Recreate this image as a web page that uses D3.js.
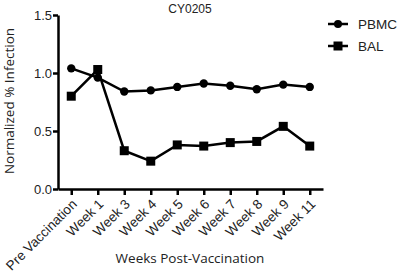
<!DOCTYPE html>
<html>
<head>
<meta charset="utf-8">
<script src="https://cdn.jsdelivr.net/npm/d3@7"></script>
<style>
  body { margin: 0; background: #fff; }
  text { font-family: "Liberation Sans", Arial, sans-serif; }
</style>
</head>
<body>
<div id="chart"></div>
<script>
// data
var weeks = ["Pre Vaccination", "Week 1", "Week 3", "Week 4", "Week 5", "Week 6", "Week 7", "Week 8", "Week 9", "Week 11"];
var pbmc = [1.04, 0.96, 0.84, 0.85, 0.88, 0.91, 0.89, 0.86, 0.90, 0.88];
var bal = [0.80, 1.03, 0.33, 0.24, 0.38, 0.37, 0.40, 0.41, 0.54, 0.37];
var yTicks = [0.0, 0.5, 1.0, 1.5];

var width = 400, height = 272;
var margin = {top: 15, right: 77, bottom: 83, left: 58};

var svg = d3.select("#chart").append("svg")
    .attr("width", width)
    .attr("height", height);

var x = d3.scalePoint()
    .domain(weeks)
    .range([margin.left, width - margin.right])
    .padding(0.5);

var y = d3.scaleLinear()
    .domain([0, 1.5])
    .range([height - margin.bottom, margin.top]);

// axes
var yAxis = svg.append("g")
    .attr("transform", "translate(" + margin.left + ",0)")
    .call(d3.axisLeft(y).tickValues(yTicks).tickFormat(d3.format(".1f")).tickSize(5).tickSizeOuter(0));
yAxis.select(".domain").attr("stroke-width", 2.5);
yAxis.selectAll(".tick line").attr("stroke-width", 2.5);
yAxis.selectAll("text").attr("font-size", 13).attr("fill", "#222").attr("dx", 2);

var xAxis = svg.append("g")
    .attr("transform", "translate(0," + (height - margin.bottom) + ")")
    .call(d3.axisBottom(x).tickSize(6).tickSizeOuter(0));
xAxis.select(".domain").attr("stroke-width", 2.5);
xAxis.selectAll(".tick line").attr("stroke-width", 2.5);
xAxis.selectAll("text")
    .attr("font-size", 13.5)
    .attr("fill", "#222")
    .attr("text-anchor", "end")
    .attr("dy", 0)
    .attr("transform", "translate(6,16) rotate(-45)")
    .attr("y", 0)
    .attr("x", 0);

// lines
var line = d3.line()
    .x(function(d, i) { return x(weeks[i]); })
    .y(function(d) { return y(d); });

svg.append("path").datum(pbmc)
    .attr("d", line).attr("fill", "none").attr("stroke", "#000").attr("stroke-width", 2.5);
svg.append("path").datum(bal)
    .attr("d", line).attr("fill", "none").attr("stroke", "#000").attr("stroke-width", 2.5);

svg.selectAll(".pt").data(pbmc).enter().append("circle")
    .attr("cx", function(d, i) { return x(weeks[i]); })
    .attr("cy", function(d) { return y(d); })
    .attr("r", 4.2)
    .attr("fill", "#000");

svg.selectAll(".sq").data(bal).enter().append("rect")
    .attr("x", function(d, i) { return x(weeks[i]) - 4.5; })
    .attr("y", function(d) { return y(d) - 4.5; })
    .attr("width", 9)
    .attr("height", 9)
    .attr("fill", "#000");

// title and labels
svg.append("text")
    .attr("x", 190).attr("y", 13)
    .attr("text-anchor", "middle")
    .attr("font-size", 12)
    .attr("fill", "#222")
    .text("CY0205");

svg.append("text")
    .attr("x", 190).attr("y", 263)
    .attr("text-anchor", "middle")
    .attr("font-size", 13.5)
    .attr("fill", "#222")
    .style("font-family", "'Open Sans', sans-serif")
    .text("Weeks Post-Vaccination");

svg.append("text")
    .attr("transform", "translate(14," + 101 + ") rotate(-90)")
    .attr("text-anchor", "middle")
    .attr("font-size", 13.5)
    .attr("fill", "#222")
    .style("font-family", "'Open Sans', sans-serif")
    .text("Normalized % Infection");

// legend
var legend = [{name: "PBMC", shape: "circle"}, {name: "BAL", shape: "square"}];
var lg = svg.selectAll(".lg").data(legend).enter().append("g")
    .attr("transform", function(d, i) { return "translate(328," + (24 + i * 22) + ")"; });
lg.append("line").attr("x1", 0).attr("x2", 20).attr("stroke", "#000").attr("stroke-width", 2.5);
lg.filter(function(d) { return d.shape == "circle"; }).append("circle")
    .attr("cx", 10).attr("r", 4).attr("fill", "#000");
lg.filter(function(d) { return d.shape == "square"; }).append("rect")
    .attr("x", 5.5).attr("y", -4.5).attr("width", 9).attr("height", 9).attr("fill", "#000");
lg.append("text")
    .attr("x", 30).attr("y", 5)
    .attr("font-size", 13.5)
    .attr("fill", "#222")
    .text(function(d) { return d.name; });
</script>
</body>
</html>
